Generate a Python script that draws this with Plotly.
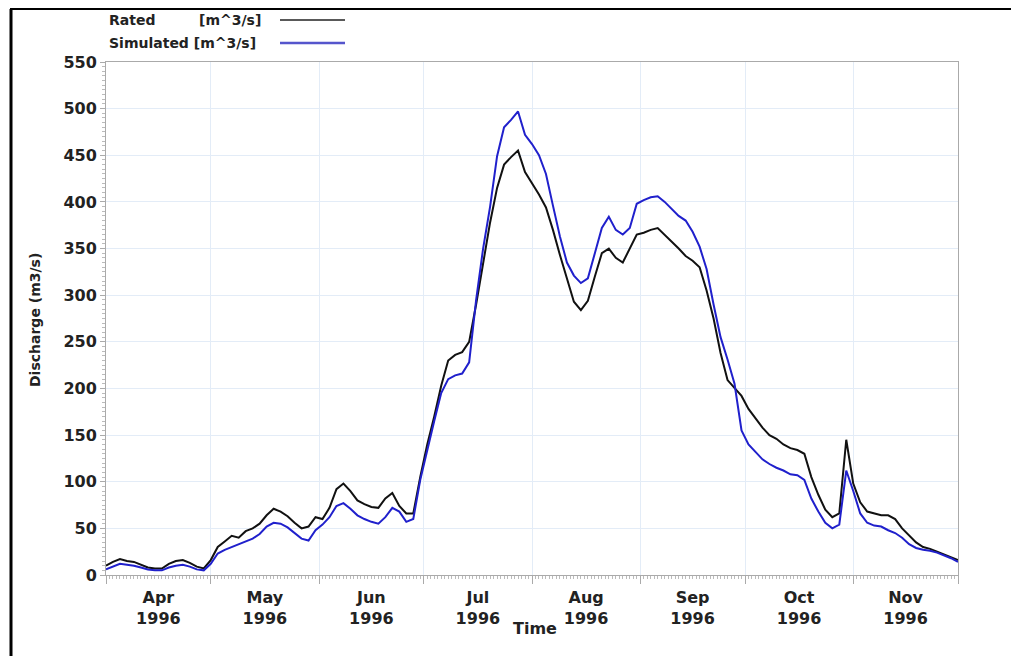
import plotly.graph_objects as go
import pandas as pd

# 2-day sampling from 1 Apr 1996 to 1 Dec 1996
dates = pd.date_range("1996-04-01", periods=123, freq="2D")

rated = [10, 14, 17, 15, 14, 11, 8, 7, 7, 12, 15, 16, 13, 9, 7, 16,
         30, 36, 42, 40, 47, 50, 55, 64, 71, 68, 63, 56, 50, 52, 62, 60,
         72, 92, 98, 90, 80, 76, 73, 72, 82, 88, 74, 66, 66, 105, 140, 170,
         203, 230, 236, 239, 250, 290, 335, 378, 415, 440, 448, 455, 432, 420,
         408, 394, 370, 343, 317, 293, 284, 294, 320, 345, 350, 340, 335, 350,
         365, 367, 370, 372, 365, 357, 350, 342, 337, 330, 305, 275, 238, 209,
         200, 192, 178, 168, 158, 150, 146, 140, 136, 134, 130, 105, 86, 70,
         62, 66, 145, 98, 78, 68, 66, 64, 64, 60, 50, 42, 35, 30, 28, 25,
         22, 19, 16]

simulated = [6, 9, 12, 11, 10, 8, 6, 5, 5, 8, 10, 11, 9, 6, 5, 12,
             23, 27, 30, 33, 36, 39, 44, 52, 56, 55, 51, 45, 39, 37, 48, 54,
             62, 74, 77, 71, 64, 60, 57, 55, 62, 72, 68, 57, 60, 102, 135, 165,
             195, 210, 214, 216, 228, 295, 350, 395, 449, 480, 488, 497, 472, 462,
             450, 430, 396, 363, 335, 321, 313, 318, 345, 372, 384, 370, 365, 372,
             398, 402, 405, 406, 400, 392, 385, 380, 368, 352, 328, 290, 255, 231,
             205, 155, 140, 132, 124, 119, 115, 112, 108, 107, 102, 82, 68, 56,
             50, 54, 112, 90, 66, 56, 53, 52, 48, 45, 40, 33, 29, 27, 26, 24,
             21, 18, 14]

y_ticks = list(range(0, 551, 50))

# page is offset by the browser's default 8px body margin
OFF = 8
W, H = 1011, 648
L, R, T, B = 98, 61, 54, 81
pw, ph = W - L - R, H - T - B


def px(x):
    return (x - OFF - L) / pw


def py(y):
    return (H - B - (y - OFF)) / ph


fig = go.Figure()
fig.add_trace(go.Scatter(x=dates, y=rated, mode="lines", name="Rated [m^3/s]",
                         line=dict(color="#111111", width=2)))
fig.add_trace(go.Scatter(x=dates, y=simulated, mode="lines", name="Simulated [m^3/s]",
                         line=dict(color="#2020cc", width=2)))

FAM = "DejaVu Sans, Verdana, sans-serif"
font_bold = dict(family=FAM, size=16, color="#222222", weight="bold")

fig.update_layout(
    width=W, height=H,
    margin=dict(l=L, r=R, t=T, b=B),
    paper_bgcolor="white", plot_bgcolor="white",
    showlegend=False,
    xaxis=dict(
        range=["1996-04-01", "1996-12-01"],
        dtick="M1", tick0="1996-04-01",
        tickformat="%b<br>%Y", ticklabelmode="period",
        ticks="outside", ticklen=8, tickcolor="#aaaaaa",
        showgrid=True, gridcolor="#e3ecf7", gridwidth=1,
        showline=True, linecolor="#aaaaaa", mirror=True,
        tickfont=font_bold,
        minor=dict(dtick=86400000, ticks="outside", ticklen=3, tickcolor="#bbbbbb", showgrid=False),
        zeroline=False,
    ),
    yaxis=dict(
        range=[0, 550], tickvals=y_ticks,
        ticks="outside", ticklen=5, tickcolor="#aaaaaa",
        showgrid=True, gridcolor="#e3ecf7", gridwidth=1,
        showline=True, linecolor="#aaaaaa", mirror=True,
        tickfont=font_bold,
        minor=dict(dtick=5, ticks="outside", ticklen=3, tickcolor="#bbbbbb", showgrid=False),
        zeroline=False,
    ),
)

legend_font = dict(family=FAM, size=14, color="#222222", weight="bold")
annotations = [
    dict(text="Rated", x=px(107), y=py(20), xanchor="left", yanchor="middle", font=legend_font),
    dict(text="[m^3/s]", x=px(197), y=py(20), xanchor="left", yanchor="middle", font=legend_font),
    dict(text="Simulated [m^3/s]", x=px(107), y=py(43), xanchor="left", yanchor="middle", font=legend_font),
    dict(text="Discharge (m3/s)", x=px(35), y=py(320), textangle=-90, xanchor="center", yanchor="middle",
         font=dict(family=FAM, size=14, color="#222222", weight="bold")),
    dict(text="Time", x=px(535), y=py(628), xanchor="center", yanchor="middle",
         font=dict(family=FAM, size=16, color="#222222", weight="bold")),
]
for a in annotations:
    a.update(xref="paper", yref="paper", showarrow=False)
fig.update_layout(annotations=annotations)

shapes = [
    dict(type="line", x0=px(280), x1=px(345), y0=py(20), y1=py(20), line=dict(color="#222222", width=1.5)),
    dict(type="line", x0=px(280), x1=px(345), y0=py(43), y1=py(43), line=dict(color="#5555cc", width=2.5)),
    dict(type="line", x0=px(11), x1=px(11), y0=py(9), y1=py(660), line=dict(color="#000000", width=3)),
    dict(type="line", x0=px(10), x1=px(1012), y0=py(9), y1=py(9), line=dict(color="#000000", width=2)),
]
for s in shapes:
    s.update(xref="paper", yref="paper", layer="above")
fig.update_layout(shapes=shapes)

fig.write_html("out.html")
